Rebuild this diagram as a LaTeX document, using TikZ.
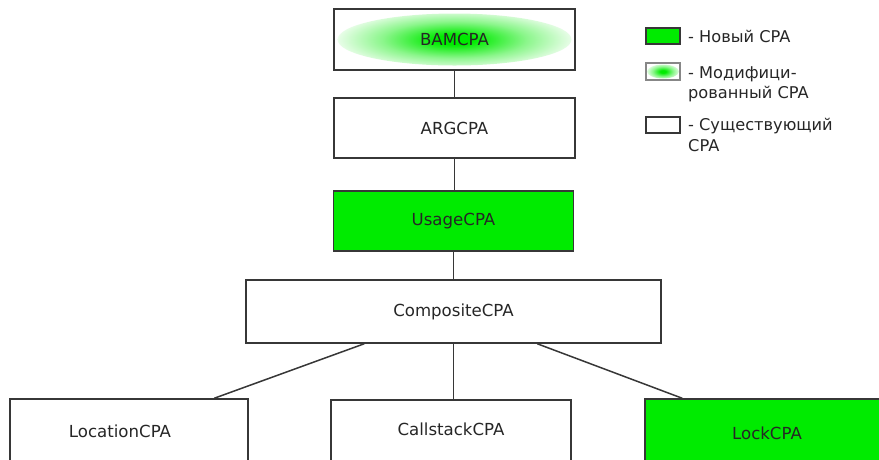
\documentclass[tikz,border=0pt]{standalone}
\usepackage{fontspec}
\setmainfont{DejaVu Sans}
\definecolor{cpagreen}{RGB}{0,235,0}
\definecolor{edge}{RGB}{55,55,55}
\pgfdeclareradialshading{bamglow}{\pgfpoint{0bp}{0bp}}{color(0bp)=(cpagreen); color(4bp)=(cpagreen); color(15bp)=(cpagreen!45); color(24bp)=(cpagreen!10); color(25bp)=(white); color(50bp)=(white)}
\begin{document}
\begin{tikzpicture}[x=1pt,y=-1pt,
  box/.style={draw=edge, line width=1.5pt, fill=white, inner sep=0pt,
    font=\fontsize{16.6}{19}\selectfont, text=black!85},
  link/.style={draw=edge, line width=1.5pt},
  legbox/.style={draw=edge, line width=1.3pt, inner sep=0pt, minimum width=34, minimum height=16},
  legtext/.style={inner sep=0pt, font=\fontsize{16.2}{20.5}\selectfont, align=left, text=black!85}]
\useasboundingbox (0,0) rectangle (879,459);
\clip (0,0) rectangle (879,459);

% main chain
\node[box, minimum width=241, minimum height=61,
  path picture={\shade[shading=bamglow] (path picture bounding box.center) ellipse [x radius=117, y radius=26];}]
  (bam) at (454.5,39.5) {BAMCPA};
\node[box, minimum width=241, minimum height=60] (arg) at (454.5,128) {ARGCPA};
\node[box, fill=cpagreen, minimum width=240, minimum height=60] (usage) at (453.5,221) {UsageCPA};
\node[box, minimum width=415, minimum height=63] (comp) at (453.5,311.5) {CompositeCPA};

% bottom row (cut by the picture's lower edge)
\node[box, minimum width=238, minimum height=68] (loc) at (129,433) {\hspace*{-18pt}\raisebox{4pt}{LocationCPA}};
\node[box, minimum width=240, minimum height=68] (cs) at (451,434) {\raisebox{9pt}{CallstackCPA}};
\node[box, fill=cpagreen, minimum width=244, minimum height=68] (lock) at (767,433) {LockCPA};

% connectors
\draw[link] (bam.south) -- (bam.south |- arg.north);
\draw[link] (arg.south) -- (arg.south |- usage.north);
\draw[link] (usage.south) -- (usage.south |- comp.north);
\draw[link] ([xshift=119pt]comp.south west) -- ([xshift=205pt]loc.north west);
\draw[link] (comp.south) -- (comp.south |- cs.north);
\draw[link] ([xshift=292pt]comp.south west) -- ([xshift=38pt]lock.north west);

% legend
\node[legbox, fill=cpagreen] (lnew) at (663,36) {};
\node[legtext, anchor=west] (tnew) at (688,36) {- Новый CPA};
\node[legbox, draw=edge!60, minimum height=17,
  path picture={\shade[shading=bamglow] (path picture bounding box.center) ellipse [x radius=16, y radius=7];}]
  (lmod) at (663,71.5) {};
\node[legtext, anchor=north west] (tmod) at (688,66) {- Модифици-\\рованный CPA};
\node[legbox, fill=white] (lold) at (663,125) {};
\node[legtext, anchor=north west, font=\fontsize{16.2}{21.5}\selectfont] (told) at (688,117.5) {- Существующий\\CPA};
\end{tikzpicture}
\end{document}
